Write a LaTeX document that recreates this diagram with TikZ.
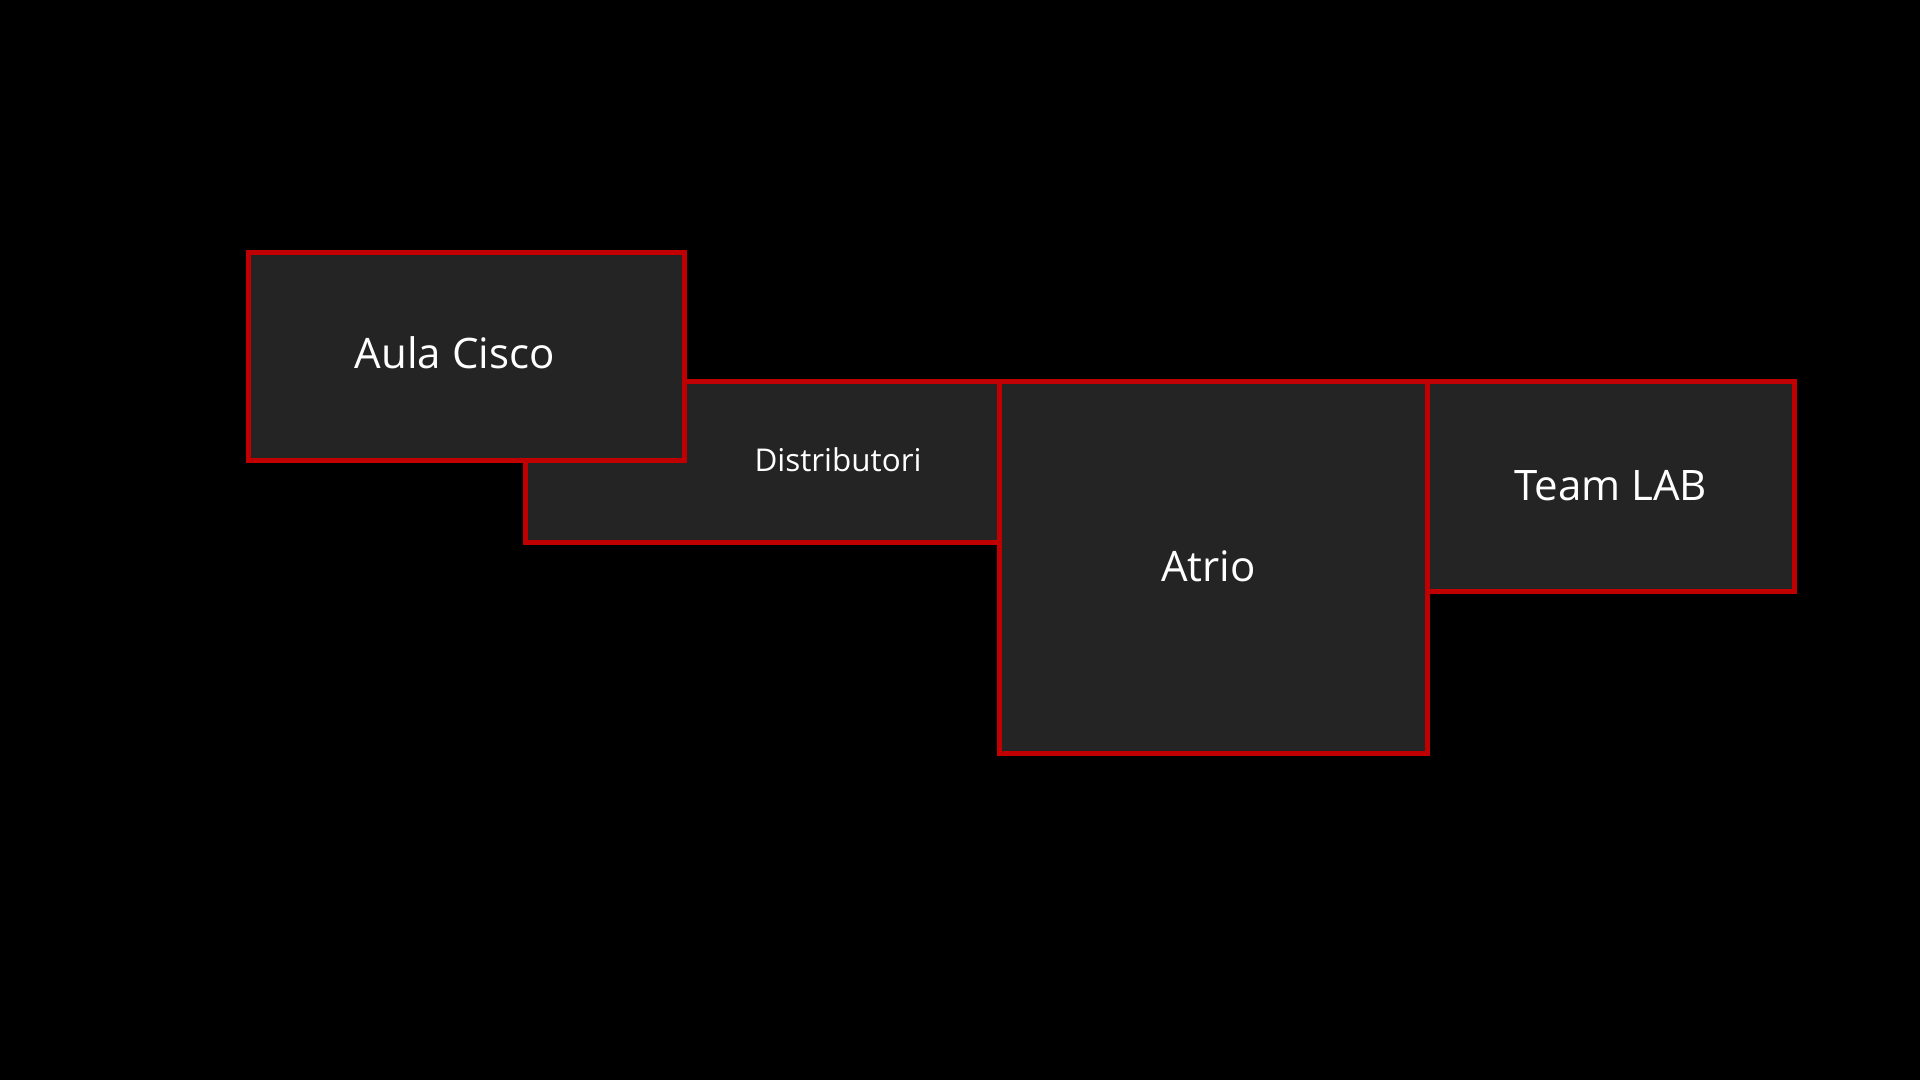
\documentclass[tikz,border=0pt]{standalone}
\usepackage{fontspec}
\setmainfont{Open Sans}
\definecolor{roomred}{HTML}{C00000}
\definecolor{roomfill}{HTML}{242424}
\tikzset{
  room/.style={draw=roomred, fill=roomfill, line width=2.5pt, inner sep=0pt, rectangle},
  bigtxt/.style={text=white, font=\fontsize{21}{24}\selectfont, anchor=base, inner sep=0pt},
  smalltxt/.style={text=white, font=\fontsize{15.7}{18}\selectfont, anchor=base, inner sep=0pt}
}
\begin{document}
\begin{tikzpicture}[x=0.5pt,y=-0.5pt]
\fill[black] (0,0) rectangle (1920,1080);
\useasboundingbox (0,0) rectangle (1920,1080);
\node[room, minimum width=237.25pt, minimum height=80.5pt] (distr) at (762.25,462) {};
\node[room, minimum width=218pt, minimum height=104pt] (aula) at (466.5,356.5) {};
\node[room, minimum width=213.75pt, minimum height=185.75pt] (atrio) at (1213.25,567.25) {};
\node[room, minimum width=183.75pt, minimum height=104.75pt] (team) at (1610.75,486.25) {};
\node[bigtxt] (taula) at (454.7,368.3) {Aula Cisco};
\node[smalltxt] (tdistr) at (838,471.7) {Distributori};
\node[bigtxt] (tatrio) at (1208.5,581.7) {Atrio};
\node[bigtxt] (tteam) at (1610.6,500) {Team LAB};
\end{tikzpicture}
\end{document}
